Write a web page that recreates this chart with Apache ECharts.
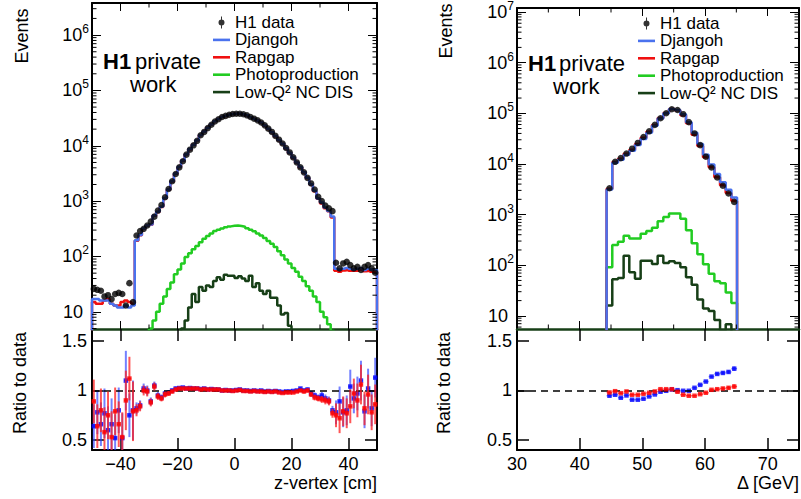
<!DOCTYPE html>
<html><head><meta charset="utf-8">
<script src="https://cdn.jsdelivr.net/npm/echarts@6/dist/echarts.min.js"></script>
<style>html,body{margin:0;padding:0;background:#fff}#c{width:801px;height:499px}</style>
</head><body><div id="c"></div>
<script>
// ---------------- z-vertex panel (left) ----------------
const zLo = -50, zBinWidth = 1.25;
const zData = [26,25,24,19,20,17,21,22,21,13,33,15,
 240,288,316,363,427,525,676,851,1175,1660,2290,3090,4070,5250,6920,8510,10200,12300,15500,17800,
 20900,24000,27500,30200,33100,34700,36300,37600,38000,38000,37200,35500,33100,30900,28800,26300,23400,20400,17800,15100,
 12900,11000,9120,7590,6170,5010,4070,3310,2630,2090,1620,1200,1000,830,740,660,
 77,61,75,80,70,61,65,57,65,70,61,51];
const zDjangoh = [17,17,16,16,16,14,13,12,12,13,12,13,
 197,245,322,363,380,551,642,791,1140,1627,2290,3152,4172,5408,7058,8723,10404,12546,15733,18156,
 21109,24360,27775,30502,33100,34874,36300,37600,38190,38380,37200,35500,32935,30900,28656,26300,23166,20298,17622,15025,
 12771,10835,9029,7514,6139,5010,4151,3310,2656,2027,1539,1116,950,764,666,528,
 60,58,60,62,60,58,60,62,57,60,58,57];
const zRapgap = [15,14,14,16,17,14,13,13,15,16,15,14,
 192,242,316,359,376,546,635,783,1128,1610,2267,3121,4151,5355,7058,8680,10404,12546,15655,18067,
 21109,24240,27775,30502,33100,34700,36300,37412,38000,38190,37014,35322,32769,30746,28512,26037,23049,20196,17533,14950,
 12642,10725,8938,7438,6046,4960,4070,3277,2630,2006,1507,1104,910,747,659,508,
 55,53,56,57,55,56,55,58,54,55,53,52];
const zPhotoprod = [0,0,0,0,0,0,0,0,0,0,0,0,
 1,1.5,2.5,3.5,5,7,10,14,19,26,34,48,58,75,98,115,135,155,180,210,
 235,260,290,305,320,337,350,360,363,355,345,325,305,285,260,240,215,190,170,148,
 125,105,88,75,62,53,43,36,29,24,19,15,10,8,6,4.5,
 0,0,0,0,0,0,0,0,0,0,0,0];
const zLowQ2 = [0,0,0,0,0,0,0,0,0,0,0,0,0,0,0,0,0,0,0,0,0,0,0,0,
 3,5,7,12,21,15,28,24,30,28,36,42,38,47,45,45,41,44,40,36,45,28,33,24,21,24,18,18,13,9,9.5,5.6,3,
 0,0,0,0,0,0,0,0,0,0,0,0,0,0,0,0,0,0,0,0,0,0,0];
const zRatioDjangoh = [0.64,0.78,0.66,0.77,0.60,0.66,0.52,0.80,0.52,1.10,0.75,0.80,
 0.82,0.85,1.02,1.0,0.89,1.05,0.95,0.93,0.97,0.98,1.0,1.02,1.025,1.03,1.02,1.025,1.02,1.02,1.015,1.02,
 1.01,1.015,1.01,1.01,1.0,1.005,1.0,1.0,1.005,1.01,1.0,1.0,0.995,1.0,0.995,1.0,0.99,0.995,0.99,0.995,
 0.99,0.985,0.99,0.99,0.995,1.0,1.02,1.0,1.01,0.97,0.95,0.93,0.95,0.92,0.90,0.80,
 0.78,0.89,0.78,0.80,1.04,0.92,0.97,1.10,0.79,1.02,0.82,1.13];
const zRatioRapgap = [0.89,0.64,0.80,0.58,0.75,0.53,0.79,0.66,0.53,0.90,1.12,0.79,
 0.80,0.84,1.0,0.99,0.88,1.04,0.94,0.92,0.96,0.97,0.99,1.01,1.02,1.02,1.02,1.02,1.02,1.02,1.01,1.015,
 1.01,1.01,1.01,1.01,1.0,1.0,1.0,0.995,1.0,1.005,0.995,0.995,0.99,0.995,0.99,0.99,0.985,0.99,0.985,0.99,
 0.98,0.975,0.98,0.98,0.98,0.99,1.0,0.99,1.0,0.96,0.93,0.92,0.91,0.90,0.89,0.77,
 0.75,0.72,0.79,0.77,0.84,0.97,0.90,1.06,0.82,0.96,0.78,0.86];
const zRatioErr = [0.22,0.22,0.22,0.25,0.24,0.26,0.24,0.23,0.25,0.30,0.22,0.30,
 0.06,0.05,0.05,0.05,0.04,0.04,0.035,0.03,0.03,0.025,0.02,0.02,
 0.01,0.01,0.01,0.01,0.01,0.01,0.01,0.01,0.01,0.01,0.01,0.01,0.01,0.01,0.01,0.01,0.01,
 0.01,0.01,0.01,0.01,0.01,0.01,0.01,0.01,0.01,0.01,0.01,0.01,0.01,0.01,0.01,0.01,0.01,
 0.015,0.02,0.02,0.025,0.03,0.03,0.035,0.04,0.04,0.045,
 0.12,0.15,0.15,0.15,0.17,0.15,0.17,0.2,0.17,0.2,0.18,0.2];

// ---------------- Delta panel (right) ----------------
const dLo = 44.3, dBinWidth = 0.905;
const dData = [3300,11000,13000,16000,20000,26000,34000,44000,59000,80000,100000,120000,116000,96000,67000,40000,23500,13900,8500,5400,3700,2600,1780];
const dDjangoh = [3125,10527,12051,15200,18140,23582,31178,41360,56640,78960,99700,121200,116348,95712,66799,41080,24840,15151,9690,6302,4355,3086,2172];
const dRapgap = [3234,10923,12649,15840,19140,24882,32878,42988,58410,81040,101300,121560,114492,91872,63449,37880,22631,13580,8560,5470,3774,2670,1851];
const dPhotoprod = [91,250,290,380,335,335,420,475,550,740,900,1050,1050,830,490,270,165,105,68,48,44,29,18];
const dLowQ2 = [16,53,56,154,73,54,123,123,106,154,111,120,111,91,58,41,21,14,12.5,8.3,5.2,6.8,4];
const dRatioDjangoh = [0.947,0.957,0.927,0.95,0.907,0.907,0.917,0.94,0.96,0.987,0.997,1.01,1.003,0.997,0.997,1.027,1.057,1.09,1.14,1.167,1.177,1.187,1.22];
const dRatioRapgap = [0.98,0.993,0.973,0.99,0.957,0.957,0.967,0.977,0.99,1.013,1.013,1.013,0.987,0.957,0.947,0.947,0.963,0.977,1.007,1.013,1.02,1.027,1.04];
const dRatioErr = [0.012,0.008,0.008,0.008,0.007,0.007,0.006,0.006,0.006,0.006,0.006,0.006,0.006,0.006,0.006,0.007,0.008,0.01,0.012,0.014,0.016,0.018,0.022];

// ---------------- tick labels ----------------
const zTickLabels = [-40,-20,0,20,40];
const dTickLabels = [30,40,50,60,70];
const ratioTickLabels = [0.5,1,1.5];
const logTicksLeft = [10,100,1000,1e4,1e5,1e6];
const logTicksRight = [10,100,1000,1e4,1e5,1e6,1e7];
const legendNames = ['H1 data','Djangoh','Rapgap','Photoproduction','Low-Q\u00B2 NC DIS'];

// ---------------- helpers ----------------
const FONT = "'Liberation Sans', Arial, Helvetica, sans-serif";
const FLOOR = 1e-3;
const C_BLUE = '#4a72ee', C_RED = '#f01010', C_GREEN = '#22cc22', C_DGREEN = '#173f17';
function centers(lo, w, n){ const a=[]; for(let i=0;i<n;i++) a.push(lo+(i+0.5)*w); return a; }
function hist(lo, w, vals){
  const pts=[[lo,FLOOR]];
  vals.forEach((v,i)=>{ const y = v>0 ? v : FLOOR; pts.push([lo+i*w,y],[lo+(i+1)*w,y]); });
  pts.push([lo+vals.length*w,FLOOR]);
  return pts;
}
function minorLogTicks(lo, hi){
  const a=[];
  for(let k=-1;k<9;k++) for(let m=2;m<=9;m++){ const v=m*Math.pow(10,k); if(v>lo && v<hi) a.push(v); }
  return a;
}
function logFmt(v){ const e=Math.round(Math.log10(v)); return e===1 ? '10{p|}' : '10{s|'+e+'}'; }

const zC = centers(zLo, zBinWidth, zData.length);
const dC = centers(dLo, dBinWidth, dData.length);

const L = {ymin:4.9, ymax:3.8e6, xmin:-50, xmax:50};
const R = {ymin:5.5, ymax:1.2e7, xmin:30, xmax:75};

function lineSeries(name, color, data, xi, yi, z){
  return {type:'line', name, data, xAxisIndex:xi, yAxisIndex:yi, symbol:'none', clip:true, z,
    lineStyle:{color, width:2.5}, itemStyle:{color}, animation:false, silent:true};
}
function ratioBars(name, color, xs, r, err, halfw, xi, yi, z){
  return {type:'custom', name, xAxisIndex:xi, yAxisIndex:yi, clip:true, z, silent:true,
    data: r.map((v,i)=>[xs[i], v, err[i], halfw]),
    renderItem:(params, api)=>{
      const x=api.value(0), y=api.value(1), e=api.value(2), h=api.value(3);
      const t=api.coord([x,y+e]), b=api.coord([x,y-e]), l=api.coord([x-h,y]), rr=api.coord([x+h,y]);
      return {type:'group', children:[
        {type:'line', shape:{x1:t[0],y1:t[1],x2:b[0],y2:b[1]}, style:{stroke:color, lineWidth:2}},
        {type:'line', shape:{x1:l[0],y1:l[1],x2:rr[0],y2:rr[1]}, style:{stroke:color, lineWidth:1.5}}
      ]};
    }};
}
function ratioMarks(name, color, xs, r, xi, yi, z, withLine){
  const s = {type:'scatter', name, xAxisIndex:xi, yAxisIndex:yi, symbol:'rect', symbolSize:4.5, z, silent:true,
    itemStyle:{color}, data:r.map((v,i)=>[xs[i],v]), clip:true};
  if(withLine){
    s.markLine = {silent:true, symbol:'none', label:{show:false}, animation:false,
      lineStyle:{color:'#000', type:[7,5], width:1.5}, data:[{yAxis:1}]};
  }
  return s;
}
function minorTickSeries(xi, yi, refX, refY, yVals, xVals, len){
  const data = yVals.map(v=>[refX, v, 0]).concat(xVals.map(v=>[v, refY, 1]));
  return {type:'custom', xAxisIndex:xi, yAxisIndex:yi, clip:false, silent:true, z:20, data,
    renderItem:(params, api)=>{
      const cs=params.coordSys; const p=api.coord([api.value(0), api.value(1)]);
      const st={stroke:'#000', lineWidth:1};
      if(api.value(2)===0){
        return {type:'group', children:[
          {type:'line', shape:{x1:cs.x, y1:p[1], x2:cs.x+len, y2:p[1]}, style:st},
          {type:'line', shape:{x1:cs.x+cs.width-len, y1:p[1], x2:cs.x+cs.width, y2:p[1]}, style:st}]};
      }
      return {type:'group', children:[
        {type:'line', shape:{x1:p[0], y1:cs.y, x2:p[0], y2:cs.y+len}, style:st},
        {type:'line', shape:{x1:p[0], y1:cs.y+cs.height-len, x2:p[0], y2:cs.y+cs.height}, style:st}]};
    }};
}

const lbl = {fontSize:18, fontFamily:FONT, color:'#000'};
const logLabel = (ticks)=>({show:true, customValues:ticks, formatter:logFmt, margin:3, fontSize:18, fontFamily:FONT, color:'#000', lineHeight:24,
  rich:{s:{fontSize:12, fontFamily:FONT, color:'#000', verticalAlign:'top', lineHeight:12}, p:{width:6}}});

function xAx(grid, pos, min, max, opts){
  return Object.assign({type:'value', gridIndex:grid, position:pos, min, max, splitLine:{show:false},
    axisLine:{show:true, onZero:false, lineStyle:{color:'#000', width:2}},
    axisTick:{show:false}, axisLabel:{show:false}}, opts);
}
function yAx(grid, pos, type, min, max, opts){
  return Object.assign({type, gridIndex:grid, position:pos, min, max, splitLine:{show:false},
    axisLine:{show:true, onZero:false, lineStyle:{color:'#000', width:2}},
    axisTick:{show:false}, axisLabel:{show:false}}, opts);
}

const dataIcon = 'path://M2.5,0h1v12h-1z M6,6a3,3 0 1,1 -6,0a3,3 0 1,1 6,0z';
const lineIcon = 'path://M0,0h17v2.6h-17z';
const legendData = [{name:legendNames[0], icon:dataIcon}].concat(legendNames.slice(1).map(n=>({name:n, icon:lineIcon})));

const option = {
  animation:false,
  backgroundColor:'#fff',
  grid:[
    {left:92, top:3, width:285, height:326},
    {left:92, top:329, width:285, height:121},
    {left:517, top:3, width:282, height:326},
    {left:517, top:329, width:282, height:121}
  ],
  xAxis:[
    xAx(0,'bottom',L.xmin,L.xmax,{axisLine:{show:true,onZero:false,lineStyle:{color:C_DGREEN,width:2.5}},
      axisTick:{show:true,inside:true,length:8,customValues:[-40,-20,0,20,40],lineStyle:{color:'#000'}}}),
    xAx(0,'top',L.xmin,L.xmax,{axisTick:{show:true,inside:true,length:8,customValues:[-40,-20,0,20,40],lineStyle:{color:'#000'}}}),
    xAx(1,'bottom',L.xmin,L.xmax,{axisTick:{show:true,inside:true,length:12,customValues:zTickLabels,lineStyle:{color:'#000',width:1.5}},
      axisLabel:Object.assign({show:true,customValues:zTickLabels,margin:5,formatter:v=>String(v).replace('-','\u2212')},lbl)}),
    xAx(1,'top',L.xmin,L.xmax,{axisLine:{show:false},axisTick:{show:true,inside:true,length:12,customValues:zTickLabels,lineStyle:{color:'#000',width:1.5}}}),
    xAx(2,'bottom',R.xmin,R.xmax,{axisLine:{show:true,onZero:false,lineStyle:{color:C_DGREEN,width:2.5}},
      axisTick:{show:true,inside:true,length:8,customValues:[40,50,60,70],lineStyle:{color:'#000'}}}),
    xAx(2,'top',R.xmin,R.xmax,{axisTick:{show:true,inside:true,length:8,customValues:[40,50,60,70],lineStyle:{color:'#000'}}}),
    xAx(3,'bottom',R.xmin,R.xmax,{axisTick:{show:true,inside:true,length:12,customValues:[40,50,60,70],lineStyle:{color:'#000',width:1.5}},
      axisLabel:Object.assign({show:true,customValues:dTickLabels,margin:5},lbl)}),
    xAx(3,'top',R.xmin,R.xmax,{axisLine:{show:false},axisTick:{show:true,inside:true,length:12,customValues:[40,50,60,70],lineStyle:{color:'#000',width:1.5}}})
  ],
  yAxis:[
    yAx(0,'left','log',L.ymin,L.ymax,{logBase:10,axisTick:{show:true,inside:true,length:9,customValues:logTicksLeft,lineStyle:{color:'#000'}},axisLabel:logLabel(logTicksLeft)}),
    yAx(0,'right','log',L.ymin,L.ymax,{logBase:10,axisTick:{show:true,inside:true,length:9,customValues:logTicksLeft,lineStyle:{color:'#000'}}}),
    yAx(1,'left','value',0.4,1.62,{axisTick:{show:true,inside:true,length:12,customValues:ratioTickLabels,lineStyle:{color:'#000',width:1.5}},
      axisLabel:Object.assign({show:true,customValues:ratioTickLabels,margin:5},lbl)}),
    yAx(1,'right','value',0.4,1.62,{axisTick:{show:true,inside:true,length:12,customValues:ratioTickLabels,lineStyle:{color:'#000',width:1.5}}}),
    yAx(2,'left','log',R.ymin,R.ymax,{logBase:10,axisTick:{show:true,inside:true,length:9,customValues:logTicksRight,lineStyle:{color:'#000'}},axisLabel:logLabel(logTicksRight)}),
    yAx(2,'right','log',R.ymin,R.ymax,{logBase:10,axisTick:{show:true,inside:true,length:9,customValues:logTicksRight,lineStyle:{color:'#000'}}}),
    yAx(3,'left','value',0.4,1.62,{axisTick:{show:true,inside:true,length:12,customValues:ratioTickLabels,lineStyle:{color:'#000',width:1.5}},
      axisLabel:Object.assign({show:true,customValues:ratioTickLabels,margin:5},lbl)}),
    yAx(3,'right','value',0.4,1.62,{axisTick:{show:true,inside:true,length:12,customValues:ratioTickLabels,lineStyle:{color:'#000',width:1.5}}})
  ],
  legend:[
    {left:213, top:14, orient:'vertical', itemWidth:17, itemHeight:12, itemGap:0.4, padding:0, selectedMode:false,
     textStyle:{fontSize:17, fontFamily:FONT, color:'#000', lineHeight:17}, data:legendData},
    {left:638, top:15, orient:'vertical', itemWidth:17, itemHeight:12, itemGap:0.4, padding:0, selectedMode:false,
     textStyle:{fontSize:17, fontFamily:FONT, color:'#000', lineHeight:17}, data:legendData}
  ],
  graphic:[
    {type:'text', x:22, y:36, rotation:Math.PI/2, style:{text:'Events', font:'18px '+FONT, fill:'#000', align:'center', verticalAlign:'middle'}},
    {type:'text', x:446, y:31, rotation:Math.PI/2, style:{text:'Events', font:'18px '+FONT, fill:'#000', align:'center', verticalAlign:'middle'}},
    {type:'text', x:20, y:383, rotation:Math.PI/2, style:{text:'Ratio to data', font:'18px '+FONT, fill:'#000', align:'center', verticalAlign:'middle'}},
    {type:'text', x:444, y:383, rotation:Math.PI/2, style:{text:'Ratio to data', font:'18px '+FONT, fill:'#000', align:'center', verticalAlign:'middle'}},
    {type:'text', x:377, y:483, style:{text:'z-vertex [cm]', font:'18px '+FONT, fill:'#000', align:'right', verticalAlign:'middle'}},
    {type:'text', x:799, y:483, style:{text:'\u0394 [GeV]', font:'18px '+FONT, fill:'#000', align:'right', verticalAlign:'middle'}},
    {type:'text', x:103, y:50, style:{text:'H1', font:'bold 22px '+FONT, fill:'#000', align:'left', verticalAlign:'alphabetic'}},
    {type:'text', x:135, y:50, style:{text:'private', font:'22px '+FONT, fill:'#000', align:'left', verticalAlign:'alphabetic'}},
    {type:'text', x:130, y:73, style:{text:'work', font:'22px '+FONT, fill:'#000', align:'left', verticalAlign:'alphabetic'}},
    {type:'text', x:528, y:52, style:{text:'H1', font:'bold 22px '+FONT, fill:'#000', align:'left', verticalAlign:'alphabetic'}},
    {type:'text', x:559, y:52, style:{text:'private', font:'22px '+FONT, fill:'#000', align:'left', verticalAlign:'alphabetic'}},
    {type:'text', x:553, y:75, style:{text:'work', font:'22px '+FONT, fill:'#000', align:'left', verticalAlign:'alphabetic'}}
  ],
  series:[
    lineSeries(legendNames[3], C_GREEN, hist(zLo,zBinWidth,zPhotoprod), 0, 0, 2),
    lineSeries(legendNames[4], C_DGREEN, hist(zLo,zBinWidth,zLowQ2), 0, 0, 3),
    lineSeries(legendNames[2], C_RED, hist(zLo,zBinWidth,zRapgap), 0, 0, 4),
    lineSeries(legendNames[1], C_BLUE, hist(zLo,zBinWidth,zDjangoh), 0, 0, 5),
    {type:'scatter', name:legendNames[0], xAxisIndex:0, yAxisIndex:0, symbol:'circle', symbolSize:6.5, z:6, silent:true,
      itemStyle:{color:'#000'}, data:zData.map((v,i)=>[zC[i],v])},
    minorTickSeries(0,0,L.xmin,L.ymin,minorLogTicks(L.ymin,L.ymax),[-30,-10,10,30],4.5),

    ratioBars('rdj', 'rgba(40,60,255,0.65)', zC, zRatioDjangoh, zRatioErr, zBinWidth/2, 2, 2, 3),
    ratioMarks('rdjm', '#0000ff', zC, zRatioDjangoh, 2, 2, 4, true),
    ratioBars('rrg', 'rgba(255,30,30,0.75)', zC, zRatioRapgap, zRatioErr, zBinWidth/2, 2, 2, 5),
    ratioMarks('rrgm', '#ff0000', zC, zRatioRapgap, 2, 2, 6, false),

    lineSeries(legendNames[3], C_GREEN, hist(dLo,dBinWidth,dPhotoprod), 4, 4, 2),
    lineSeries(legendNames[4], C_DGREEN, hist(dLo,dBinWidth,dLowQ2), 4, 4, 3),
    lineSeries(legendNames[2], C_RED, hist(dLo,dBinWidth,dRapgap), 4, 4, 4),
    lineSeries(legendNames[1], C_BLUE, hist(dLo,dBinWidth,dDjangoh), 4, 4, 5),
    {type:'scatter', name:legendNames[0], xAxisIndex:4, yAxisIndex:4, symbol:'circle', symbolSize:6.5, z:6, silent:true,
      itemStyle:{color:'#000'}, data:dData.map((v,i)=>[dC[i],v])},
    minorTickSeries(4,4,R.xmin,R.ymin,minorLogTicks(R.ymin,R.ymax),[35,45,55,65],4.5),

    ratioBars('rdj2', 'rgba(40,60,255,0.65)', dC, dRatioDjangoh, dRatioErr, dBinWidth/2, 6, 6, 3),
    ratioMarks('rdjm2', '#0000ff', dC, dRatioDjangoh, 6, 6, 4, true),
    ratioBars('rrg2', 'rgba(255,30,30,0.75)', dC, dRatioRapgap, dRatioErr, dBinWidth/2, 6, 6, 5),
    ratioMarks('rrgm2', '#ff0000', dC, dRatioRapgap, 6, 6, 6, false)
  ]
};
const chart = echarts.init(document.getElementById('c'), null, {renderer:'svg', width:801, height:499});
chart.setOption(option);
</script></body></html>
